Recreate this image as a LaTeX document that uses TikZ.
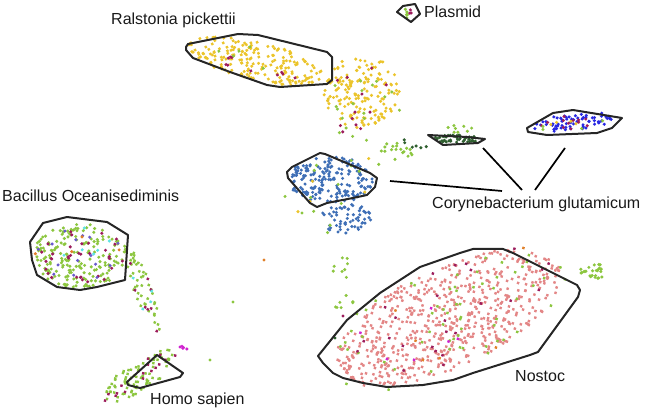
\documentclass[tikz,border=0pt]{standalone}
\usepackage{fontspec}
\setmainfont{Liberation Sans}
\definecolor{cyel}{HTML}{EBC42B}
\definecolor{cblu}{HTML}{3F6FB6}
\definecolor{cpnk}{HTML}{E38686}
\definecolor{cgrn}{HTML}{8CC63F}
\definecolor{cmag}{HTML}{9C1C5C}
\definecolor{cbbl}{HTML}{2828E2}
\definecolor{cdgr}{HTML}{2F5F2F}
\definecolor{ccya}{HTML}{5FE3E3}
\definecolor{cvio}{HTML}{D024D0}
\definecolor{cpur}{HTML}{6A5ACD}
\definecolor{cora}{HTML}{E0802A}
\newcommand\cloud[7]{%
  \begin{scope}[shift={(#1,#2)},rotate=#5]
    \foreach \k in {1,...,#6}{%
      \pgfmathsetmacro\ang{360*rnd}%
      \pgfmathsetmacro\rr{sqrt(rnd)}%
      \pgfmathsetmacro\px{\rr*#3*cos(\ang)}%
      \pgfmathsetmacro\py{\rr*#4*sin(\ang)}%
      \fill[#7] (\px,\py) circle[radius=1.7];
    }
  \end{scope}}
\tikzset{
  hull/.style={draw=black!85, line width=2pt, line join=round},
  conn/.style={draw=black, line width=1.7pt},
  lbl/.style={font=\fontsize{16}{18}\selectfont, inner sep=0pt, anchor=west, text=black!90}
}
\begin{document}
\begin{tikzpicture}[x=1pt,y=-1pt]
\pgfmathsetseed{7}
\useasboundingbox (0,0) rectangle (650,411);
% ---------- Ralstonia ----------
\cloud{256}{61}{70}{19}{-13}{200}{cyel}
\cloud{256}{61}{65}{17}{-13}{10}{cmag}
\cloud{256}{61}{65}{17}{-13}{5}{cgrn}
\cloud{362}{92}{38}{36}{0}{160}{cyel}
\cloud{362}{100}{36}{40}{0}{12}{cmag}
\cloud{365}{110}{38}{40}{0}{18}{cgrn}
% ---------- central blue ----------
\cloud{331}{180}{42}{24}{0}{200}{cblu}
\cloud{345}{218}{26}{15}{0}{60}{cblu}
\cloud{340}{195}{55}{45}{0}{14}{cgrn}
\cloud{340}{195}{55}{45}{0}{5}{cyel}
\cloud{395}{152}{20}{10}{0}{18}{cgrn}
% ---------- Bacillus ----------
\cloud{80}{256}{47}{32}{0}{190}{cgrn}
\cloud{80}{256}{45}{30}{0}{35}{cmag}
\cloud{80}{256}{45}{30}{0}{15}{cpur}
\cloud{80}{256}{45}{30}{0}{6}{ccya}
\cloud{80}{256}{45}{30}{0}{4}{cora}
\cloud{143}{290}{45}{9}{-70}{45}{cgrn}
\cloud{143}{290}{45}{9}{-70}{8}{cmag}
\cloud{143}{290}{45}{9}{-70}{4}{ccya}
\cloud{183}{348}{5}{2}{0}{5}{cvio}
% ---------- Homo sapien ----------
\cloud{140}{376}{45}{14}{32}{85}{cgrn}
\cloud{140}{376}{45}{14}{32}{16}{cmag}
% ---------- Nostoc ----------
\cloud{448}{318}{122}{50}{25}{650}{cpnk}
\cloud{448}{318}{132}{56}{25}{60}{cgrn}
\cloud{448}{318}{125}{52}{25}{25}{cmag}
\cloud{448}{318}{125}{52}{25}{6}{cvio}
\cloud{448}{318}{125}{52}{25}{6}{cora}
\cloud{592}{272}{14}{9}{0}{25}{cgrn}
\cloud{345}{285}{15}{30}{0}{15}{cgrn}
% ---------- right clusters ----------
\cloud{573}{122}{45}{8}{6}{70}{cbbl}
\cloud{573}{122}{40}{8}{6}{12}{cmag}
\cloud{573}{122}{40}{8}{6}{4}{cyel}
\cloud{573}{122}{40}{8}{6}{4}{cgrn}
\cloud{457}{139}{25}{4}{0}{45}{cdgr}
\cloud{462}{128}{15}{5}{0}{8}{cgrn}
\cloud{415}{144}{15}{6}{0}{6}{cdgr}
\cloud{408}{13}{5}{5}{0}{5}{cgrn}
\cloud{410}{13}{4}{4}{0}{3}{cmag}
\fill[cgrn] (233,302) circle[radius=1.7];
\fill[cgrn] (210,360) circle[radius=1.7];
\fill[cmag] (343,316) circle[radius=1.7];
\fill[cdgr] (335,338) circle[radius=1.7];
\fill[cora] (264,260) circle[radius=1.7];
\fill[cgrn] (450,289) circle[radius=1.7];
\fill[cgrn] (455,287) circle[radius=1.7];
% ---------- hulls ----------
\draw[hull] (186,47)--(188,44)--(238,34)--(258,35)--(327,52)--(332,57)--(332,80)--(327,84)--(280,87)--(267,85)--(230,72)--(193,58)--(186,50)--cycle;
\draw[hull] (397,12)--(403,6)--(415,4)--(420,14)--(411,22)--cycle;
\draw[hull] (428,135)--(467,137)--(485,139)--(478,143)--(443,145)--cycle;
\draw[hull] (527,128)--(553,113)--(573,110)--(622,118)--(612,128)--(597,133)--(547,135)--(528,132)--cycle;
\draw[hull] (287,172)--(292,167)--(320,153)--(325,154)--(370,173)--(377,178)--(375,187)--(367,195)--(353,198)--(327,203)--(317,207)--(310,203)--(288,178)--cycle;
\draw[hull] (30,242)--(43,223)--(67,217)--(107,222)--(128,235)--(125,280)--(97,287)--(80,290)--(57,287)--(37,275)--(32,260)--cycle;
\draw[hull] (127,382)--(157,355)--(183,373)--(180,377)--(140,388)--(128,385)--cycle;
\draw[hull] (318,356)--(347,320)--(380,293)--(420,267)--(460,253)--(473,249)--(503,249)--(513,253)--(577,285)--(580,290)--(578,297)--(538,352)--(530,355)--(473,373)--(453,380)--(423,385)--(387,387)--(363,383)--(343,378)--(333,373)--(323,363)--cycle;
% ---------- labels ----------
\node[lbl] (ral) at (111,20) {Ralstonia pickettii};
\node[lbl] (pla) at (424,12) {Plasmid};
\node[lbl] (cor) at (432,204) {Corynebacterium glutamicum};
\node[lbl] (bac) at (2,196) {Bacillus Oceanisediminis};
\node[lbl] (hom) at (150,400) {Homo sapien};
\node[lbl] (nos) at (515,376) {Nostoc};
% ---------- connectors ----------
\coordinate (c1) at (390,181);
\coordinate (c2) at (483,148);
\coordinate (c3) at (565,148);
\coordinate (t1) at (502,191);
\coordinate (t2) at (522,190);
\coordinate (t3) at (535,190);
\draw[conn] (c1) -- (t1);
\draw[conn] (c2) -- (t2);
\draw[conn] (c3) -- (t3);
\end{tikzpicture}
\end{document}
